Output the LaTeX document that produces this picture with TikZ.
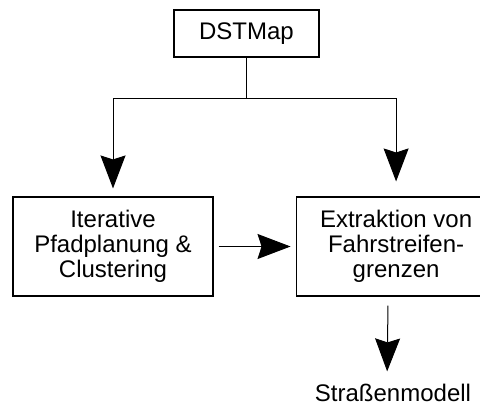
\documentclass[tikz,border=0pt]{standalone}
\usepackage{fontspec}
\setmainfont{Liberation Sans}
\usetikzlibrary{arrows.meta, positioning}

\begin{document}
\begin{tikzpicture}[
    x=1pt, y=-1pt,
    font=\fontsize{24}{25}\selectfont,
    box/.style   ={draw, line width=1.1pt, align=center, inner sep=0pt,
                   minimum width=200pt, minimum height=99pt},
    arrow/.style ={-{Stealth[length=33pt, width=25pt, inset=4pt]}, line width=1pt},
]
\useasboundingbox (0,0) rectangle (480,406);
\clip (0,0) rectangle (480,406);

% ── Input map ──────────────────────────────────────────────────────────
\node[box, minimum width=145pt, minimum height=47pt] (dst) at (246.5,33.5) {DSTMap};

% ── Processing steps ───────────────────────────────────────────────────
\node[box] (iter) at (113,246.5) {Iterative\\Pfadplanung \&\\Clustering};
\node[box, right=82pt of iter] (ext) {Extraktion von\\Fahrstreifen-\\grenzen};

% ── Output ─────────────────────────────────────────────────────────────
\node[anchor=base, inner sep=0pt] (model) at (393,402) {Straßenmodell};

% ── Arrows ─────────────────────────────────────────────────────────────
\draw[line width=1pt] (dst.south) -- ++(0,41) coordinate (fork);
\draw[arrow, shorten >=8pt]  (fork) -| (iter.north);
\draw[arrow, shorten >=15pt] (fork) -| (ext.north);
\draw[arrow, shorten <=5pt, shorten >=5pt] (iter) -- (ext);
\draw[arrow, shorten <=9pt, shorten >=13pt] ([xshift=-8pt]ext.south) -- ([xshift=-6pt]model.north);

\end{tikzpicture}
\end{document}
